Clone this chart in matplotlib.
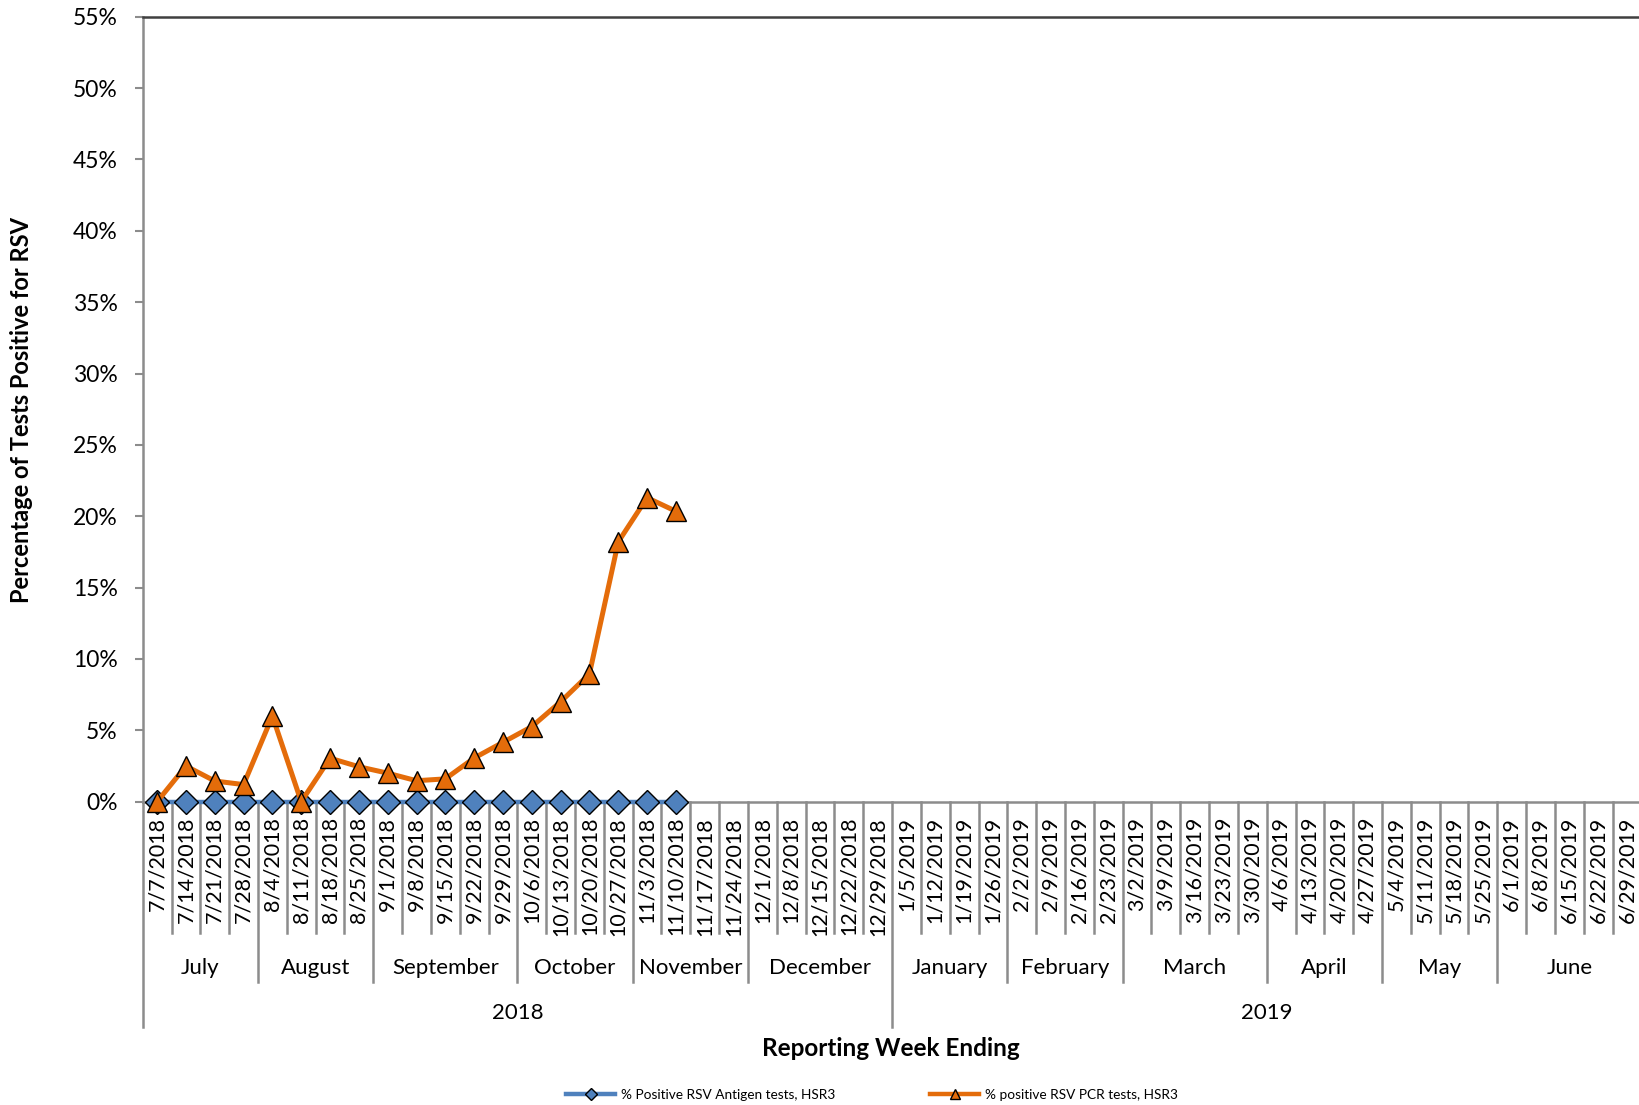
import matplotlib
matplotlib.use('Agg')
import matplotlib.pyplot as plt
from matplotlib.lines import Line2D
from matplotlib.ticker import FuncFormatter

plt.rcParams['font.family'] = ['Lato', 'DejaVu Sans']

# week ending dates (category axis)
weeks = ['7/7/2018', '7/14/2018', '7/21/2018', '7/28/2018', '8/4/2018', '8/11/2018',
         '8/18/2018', '8/25/2018', '9/1/2018', '9/8/2018', '9/15/2018', '9/22/2018',
         '9/29/2018', '10/6/2018', '10/13/2018', '10/20/2018', '10/27/2018', '11/3/2018',
         '11/10/2018', '11/17/2018', '11/24/2018', '12/1/2018', '12/8/2018', '12/15/2018',
         '12/22/2018', '12/29/2018',
         '1/5/2019', '1/12/2019', '1/19/2019', '1/26/2019', '2/2/2019', '2/9/2019',
         '2/16/2019', '2/23/2019', '3/2/2019', '3/9/2019', '3/16/2019', '3/23/2019',
         '3/30/2019', '4/6/2019', '4/13/2019', '4/20/2019', '4/27/2019', '5/4/2019',
         '5/11/2019', '5/18/2019', '5/25/2019', '6/1/2019', '6/8/2019', '6/15/2019',
         '6/22/2019', '6/29/2019']
months = ['July', 'August', 'September', 'October', 'November', 'December',
          'January', 'February', 'March', 'April', 'May', 'June']
month_weeks = [4, 4, 5, 4, 4, 5, 4, 4, 5, 4, 4, 5]
years = ['2018', '2019']
year_weeks = [26, 26]

# % positive, reported weeks only
antigen_pct = [0, 0, 0, 0, 0, 0, 0, 0, 0, 0, 0, 0, 0, 0, 0, 0, 0, 0, 0]
pcr_pct = [0.0, 2.5, 1.45, 1.2, 6.0, 0.0, 3.05, 2.45, 2.0, 1.47, 1.6, 3.06,
           4.16, 5.26, 7.0, 8.95, 18.2, 21.3, 20.35]

blue = '#4F81BD'
orange = '#E46C0A'
gray = '#8C8C8C'

W, H = 1639, 1105
fig = plt.figure(figsize=(W / 100, H / 100), dpi=100)
left, right, top, bottom = 142.7, 1641.4, 16.7, 801.7
ax = fig.add_axes([left / W, 1 - bottom / H, (right - left) / W, (bottom - top) / H])
axh = bottom - top

ax.plot(range(len(antigen_pct)), antigen_pct, color=blue, lw=3.2, marker='D', ms=12,
        mfc=blue, mec='black', mew=1.0, zorder=3, clip_on=False)
ax.plot(range(len(pcr_pct)), pcr_pct, color=orange, lw=3.6, marker='^', ms=15,
        mfc=orange, mec='black', mew=1.0, zorder=4, clip_on=False)

ax.set_xlim(-0.5, len(weeks) - 0.5)
ax.set_ylim(0, 55)
ax.set_yticks(range(0, 56, 5))
ax.yaxis.set_major_formatter(FuncFormatter(lambda v, p: '%d%%' % v))
ax.tick_params(axis='y', length=6, width=1.5, color=gray, pad=12, labelsize=16.5)
ax.set_xticks(range(len(weeks)))
ax.set_xticklabels(weeks, rotation=90, va='top', ha='center')
ax.tick_params(axis='x', length=0, pad=11, labelsize=15.5)

for s in ['left', 'bottom']:
    ax.spines[s].set_color(gray)
    ax.spines[s].set_linewidth(1.8)
ax.spines['top'].set_color('#404040')
ax.spines['top'].set_linewidth(1.8)
ax.spines['right'].set_visible(False)

# multi level category axis
trans = ax.get_xaxis_transform()
y_week = -(933 - bottom) / axh
y_month = -(982 - bottom) / axh
y_year = -(1027 - bottom) / axh
month_edges = [0]
for n in month_weeks:
    month_edges.append(month_edges[-1] + n)
year_edges = [0]
for n in year_weeks:
    year_edges.append(year_edges[-1] + n)
for b in range(len(weeks) + 1):
    if b in year_edges:
        y2 = y_year
    elif b in month_edges:
        y2 = y_month
    else:
        y2 = y_week
    ax.plot([b - 0.5, b - 0.5], [0, y2], transform=trans, clip_on=False,
            color=gray, lw=1.8, zorder=1)

for i, m in enumerate(months):
    xc = (month_edges[i] + month_edges[i + 1]) / 2 - 0.5
    ax.text(xc, -(968 - bottom) / axh, m, transform=trans, ha='center', va='center',
            fontsize=16)
for i, yr in enumerate(years):
    xc = (year_edges[i] + year_edges[i + 1]) / 2 - 0.5
    ax.text(xc, -(1013 - bottom) / axh, yr, transform=trans, ha='center', va='center',
            fontsize=16)

fig.text(891 / W, 1 - 1049 / H, 'Reporting Week Ending', ha='center', va='center',
         fontsize=17.5, fontweight='bold')
fig.text(22 / W, 1 - 410 / H, 'Percentage of Tests Positive for RSV', ha='center',
         va='center', rotation=90, fontsize=17, fontweight='bold')

handles = [Line2D([], [], color=blue, lw=3.2, marker='D', ms=6, mfc=blue, mec='black', mew=1),
           Line2D([], [], color=orange, lw=3.2, marker='^', ms=7, mfc=orange, mec='black', mew=1)]
fig.legend(handles, ['% Positive RSV Antigen tests, HSR3', '% positive RSV PCR tests, HSR3'],
           loc='center', bbox_to_anchor=(872 / W, 1 - 1095 / H), ncol=2, frameon=False,
           fontsize=9.8, handlelength=3.6, handletextpad=0.4, columnspacing=7.0)

fig.savefig('out.png', dpi=100)
